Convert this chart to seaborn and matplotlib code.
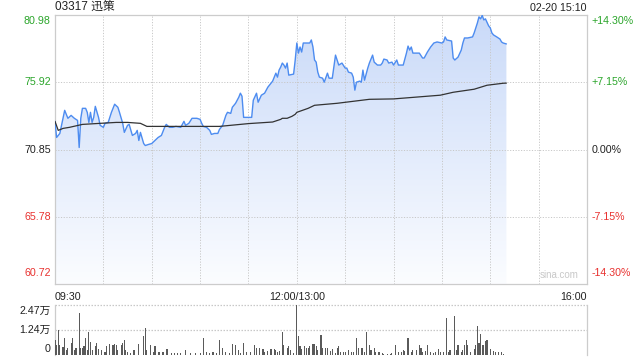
import numpy as np
import pandas as pd
import matplotlib
matplotlib.use("Agg")
import matplotlib.pyplot as plt
import seaborn as sns

# ---------------- data ----------------
# trading minutes counted from 09:30 (lunch break removed); 330 minutes total
price_minutes = [0, 1, 3, 5, 6, 8, 10, 12, 14, 15, 16, 17, 19, 20, 21, 22, 23, 24, 25, 27, 28, 30, 31, 33,
                 35, 37, 39, 40, 42, 43, 45, 46, 48, 50, 51, 52, 53, 55, 56, 58, 60, 62, 64, 66, 68, 69,
                 71, 73, 75, 78, 80, 81, 83, 85, 88, 90, 91, 92, 94, 96, 97, 99, 101, 102, 104, 106, 107,
                 109, 110, 112, 114, 115, 116, 117, 119, 122, 123, 125, 126, 128, 130, 132, 134, 135, 137,
                 138, 139, 140, 141, 142, 143, 144, 145, 148, 149, 150, 151, 152, 153, 154, 156, 158, 159,
                 160, 161, 162, 163, 164, 166, 167, 169, 170, 172, 174, 175, 176, 178, 180, 181, 182, 184,
                 185, 186, 187, 189, 190, 191, 192, 194, 195, 197, 198, 200, 202, 203, 204, 206, 207, 209,
                 210, 212, 213, 216, 218, 219, 220, 221, 222, 226, 228, 229, 231, 233, 235, 237, 240, 241,
                 242, 243, 246, 247, 248, 250, 252, 253, 254, 256, 259, 260, 262, 263, 264, 265, 266, 267,
                 269, 270, 271, 272, 274, 276, 277, 278, 280]
price_values = [72.97, 71.76, 72.06, 73.20, 73.80, 73.20, 73.42, 73.20, 73.04, 71.00, 73.20, 73.95, 73.95,
                73.65, 72.89, 73.65, 72.89, 73.27, 74.10, 73.27, 72.67, 72.52, 72.82, 72.89, 73.65, 74.26,
                74.03, 73.65, 72.82, 72.14, 72.67, 72.74, 71.91, 72.06, 72.29, 71.53, 72.14, 71.30, 71.15,
                71.23, 71.30, 71.53, 71.76, 71.91, 72.52, 72.74, 72.52, 72.52, 72.59, 72.52, 72.97, 72.67,
                72.82, 73.20, 73.20, 73.12, 72.82, 72.59, 72.52, 72.29, 71.99, 72.06, 72.06, 72.36, 72.67,
                73.42, 73.65, 73.57, 74.03, 74.33, 74.79, 75.09, 74.86, 73.27, 73.27, 73.27, 74.56, 75.09,
                74.41, 74.94, 75.09, 75.54, 75.84, 76.00, 76.60, 76.30, 76.83, 77.06, 77.36, 77.21, 76.98,
                77.36, 76.45, 76.53, 77.59, 78.87, 78.11, 78.57, 78.19, 78.87, 78.87, 78.87, 79.10, 78.57,
                77.59, 77.43, 76.68, 76.30, 76.22, 75.92, 76.60, 76.22, 76.22, 77.96, 77.59, 77.21, 77.36,
                76.98, 76.98, 76.68, 76.60, 76.30, 75.32, 75.92, 76.00, 75.92, 76.83, 76.07, 76.98, 77.36,
                77.96, 77.43, 77.21, 77.21, 77.36, 77.66, 77.59, 77.36, 77.43, 77.21, 77.59, 77.21, 77.21,
                78.11, 78.64, 78.34, 78.57, 78.11, 78.11, 77.74, 77.74, 78.19, 78.57, 78.87, 78.95, 78.87,
                78.95, 79.33, 79.10, 79.02, 77.74, 77.59, 77.81, 78.34, 78.87, 79.25, 79.25, 79.33, 79.63,
                80.38, 80.84, 80.69, 80.95, 80.61, 80.69, 80.16, 80.01, 79.63, 79.48, 79.33, 79.17, 78.95,
                78.87, 78.80]

avg_minutes = [0, 2, 5, 9, 17, 28, 38, 45, 53, 57, 102, 120, 135, 140, 141, 144, 147, 149, 150, 157, 161,
               175, 195, 210, 239, 247, 260, 268, 278, 280]
avg_values = [72.97, 72.29, 72.44, 72.52, 72.74, 72.82, 72.89, 72.89, 72.82, 72.59, 72.59, 72.80, 72.92,
              73.12, 73.20, 73.20, 73.35, 73.50, 73.65, 73.95, 74.18, 74.33, 74.63, 74.66, 74.94, 75.16,
              75.39, 75.69, 75.84, 75.85]

vol_minutes = [0, 1, 2, 3, 5, 6, 7, 8, 10, 11, 12, 13, 15, 16, 17, 18, 19, 20, 21, 22, 23, 25, 26, 27, 29,
               31, 32, 34, 36, 37, 38, 39, 41, 42, 43, 44, 45, 47, 49, 52, 55, 56, 57, 59, 61, 62, 64, 65,
               67, 69, 70, 72, 74, 76, 78, 81, 84, 87, 90, 92, 94, 96, 98, 100, 102, 104, 106, 108, 110,
               112, 114, 115, 117, 119, 121, 124, 125, 127, 129, 130, 132, 134, 136, 137, 138, 139, 141,
               142, 144, 145, 146, 148, 150, 151, 152, 153, 155, 156, 157, 158, 160, 161, 162, 163, 165,
               166, 168, 169, 171, 172, 174, 175, 176, 177, 179, 180, 182, 184, 185, 187, 188, 190, 191,
               192, 193, 195, 196, 198, 199, 201, 203, 204, 206, 208, 209, 211, 213, 215, 216, 217, 219,
               221, 222, 224, 226, 227, 228, 230, 231, 233, 235, 236, 238, 239, 241, 243, 244, 245, 248,
               249, 250, 252, 253, 254, 255, 256, 258, 260, 261, 262, 263, 264, 265, 266, 267, 268, 270,
               272, 273, 275, 277, 278]
vol_values = [7500, 5000, 12500, 5000, 4000, 8300, 2500, 3500, 6000, 8500, 2500, 3300, 20800, 3300, 3500,
              4200, 8300, 2500, 11300, 6500, 2500, 4200, 6000, 3000, 2500, 1700, 4200, 5300, 5000, 5300,
              5000, 2500, 5000, 5800, 7500, 2500, 1700, 800, 2500, 5300, 9200, 13300, 2500, 4700, 1300,
              4200, 1700, 1300, 1700, 3000, 3000, 1000, 800, 800, 800, 2500, 1000, 800, 1000, 8300, 1700,
              1000, 1700, 1000, 7500, 3300, 1700, 1000, 5300, 5000, 2500, 1000, 5800, 1700, 1300, 4700,
              3300, 3500, 3000, 1700, 2000, 3000, 3000, 2500, 1700, 2000, 11300, 5000, 3700, 4200, 2500,
              800, 24700, 9200, 4200, 3000, 4200, 3300, 3700, 4200, 5300, 5300, 4200, 2500, 10000, 3700,
              3700, 3300, 2000, 3000, 800, 3300, 4200, 1700, 1700, 1700, 2500, 1700, 1700, 8300, 3300,
              3700, 3300, 1700, 11300, 5000, 2500, 3300, 1700, 1700, 800, 500, 300, 300, 800, 5000, 1300,
              1700, 2500, 2000, 8300, 1700, 2500, 2500, 5000, 3300, 1700, 2000, 5000, 1700, 800, 1300,
              3000, 1700, 1300, 18300, 1700, 2500, 19100, 2500, 5000, 1300, 2500, 5000, 7500, 5000, 1300,
              3000, 5000, 14500, 5800, 10500, 5000, 4700, 6700, 7500, 3000, 2000, 1700, 1300, 1700, 300]

prev_close = 70.85
price_ticks = [80.98, 75.92, 70.85, 65.78, 60.72]
price_tick_labels = ["80.98", "75.92", "70.85", "65.78", "60.72"]
pct_tick_labels = ["+14.30%", "+7.15%", "0.00%", "-7.15%", "-14.30%"]
vol_ticks = [24700, 12350, 0]
vol_tick_labels = ["2.47万", "1.24万", "0"]
time_labels = ["09:30", "12:00/13:00", "16:00"]
time_label_minutes = [0, 150, 330]
title_text = "03317 迅策"
stamp_text = "02-20 15:10"

# ---------------- style ----------------
sns.set_theme(style="white")
plt.rcParams["font.family"] = ["Liberation Sans", "Noto Sans CJK SC", "DejaVu Sans"]

GREEN = "#2aa52a"
RED = "#e8312f"
BLACK = "#222222"
LINE_BLUE = "#4d8cf0"
GRID = "#c8c8c8"
BORDER = "#cccccc"
FS = 7.7

price_df = pd.DataFrame({"minute": price_minutes, "price": price_values})
avg_df = pd.DataFrame({"minute": avg_minutes, "price": avg_values})
vol_df = pd.DataFrame({"minute": vol_minutes, "volume": vol_values})

fig = plt.figure(figsize=(6.4, 3.6), dpi=100)
ax = fig.add_axes([55 / 640, 76 / 360, 532 / 640, 269 / 360])
axv = fig.add_axes([55 / 640, 5 / 360, 532 / 640, 50 / 360])

ymin, ymax = price_ticks[-1], price_ticks[0]

# gradient fill under price line
grad = np.linspace(0, 1, 256).reshape(-1, 1)
top_c = np.array([0.79, 0.855, 0.975])
bot_c = np.array([0.985, 0.99, 1.0])
img = top_c * (1 - grad[..., None]) + bot_c * grad[..., None]
img = img.reshape(256, 1, 3)
im = ax.imshow(img, extent=[0, 330, ymin, ymax], aspect="auto", origin="upper", zorder=1)
poly = ax.fill_between(price_df["minute"], price_df["price"], ymin, facecolor="none", edgecolor="none")
im.set_clip_path(poly.get_paths()[0], transform=ax.transData)

sns.lineplot(data=price_df, x="minute", y="price", ax=ax, color=LINE_BLUE, lw=1.0, zorder=4)
sns.lineplot(data=avg_df, x="minute", y="price", ax=ax, color="#333333", lw=0.9, zorder=5)

ax.set_xlim(0, 330)
ax.set_ylim(ymin, ymax)
for m in range(30, 330, 30):
    ax.axvline(m, color=GRID, lw=0.7, ls=(0, (1.2, 1.6)), zorder=2)
for t in price_ticks[1:-1]:
    ax.axhline(t, color=GRID, lw=0.7, ls=(0, (1.2, 1.6)), zorder=2)
ax.set_xticks([])
ax.set_yticks([])
ax.set_xlabel("")
ax.set_ylabel("")
for s in ax.spines.values():
    s.set_visible(True)
    s.set_color(BORDER)
    s.set_linewidth(0.9)

tcolors = [GREEN, GREEN, BLACK, RED, RED]
vas = ["top", "center", "center", "center", "bottom"]
offs = [-1, 0, 0, 0, 4]
for t, lab, pl, c, va, o in zip(price_ticks, price_tick_labels, pct_tick_labels, tcolors, vas, offs):
    ax.annotate(lab, xy=(0, t), xycoords=("axes fraction", "data"), xytext=(-3, o),
                textcoords="offset points", ha="right", va=va, color=c, fontsize=FS)
    ax.annotate(pl, xy=(1, t), xycoords=("axes fraction", "data"), xytext=(3, o),
                textcoords="offset points", ha="left", va=va, color=c, fontsize=FS)

# time labels
has = ["left", "center", "right"]
for lab, m, ha in zip(time_labels, time_label_minutes, has):
    ax.annotate(lab, xy=(m, 0), xycoords=("data", "axes fraction"), xytext=(0, -9),
                textcoords="offset points", ha=ha, va="center", color=BLACK, fontsize=FS)

ax.text(0.985, 0.015, "sina.com", transform=ax.transAxes, ha="right", va="bottom",
        color="#c8c8c8", fontsize=7)

fig.text(55 / 640, 1 - 8 / 360, title_text, ha="left", va="center", fontsize=8.5, color=BLACK)
fig.text(587 / 640, 1 - 8 / 360, stamp_text, ha="right", va="center", fontsize=FS, color=BLACK)

# volume
axv.bar(vol_df["minute"], vol_df["volume"], width=0.7, color="#5a5a5a", zorder=3, linewidth=0)
axv.set_xlim(0, 330)
axv.set_ylim(0, vol_ticks[0])
for t in vol_ticks[:2]:
    axv.axhline(t, color=GRID, lw=0.9, ls=(0, (1.2, 1.2)), zorder=2, clip_on=False)
axv.set_xticks([])
axv.set_yticks([])
for k, s in axv.spines.items():
    s.set_color(BORDER)
    s.set_linewidth(0.9)
    s.set_visible(k in ("left", "right"))
vvas = ["top", "center", "bottom"]
voffs = [-1, 0, 1]
for t, lab, va, o in zip(vol_ticks, vol_tick_labels, vvas, voffs):
    axv.annotate(lab, xy=(0, t), xycoords=("axes fraction", "data"), xytext=(-3, o),
                 textcoords="offset points", ha="right", va=va, color=BLACK, fontsize=FS)

fig.savefig("out.png", dpi=100)
